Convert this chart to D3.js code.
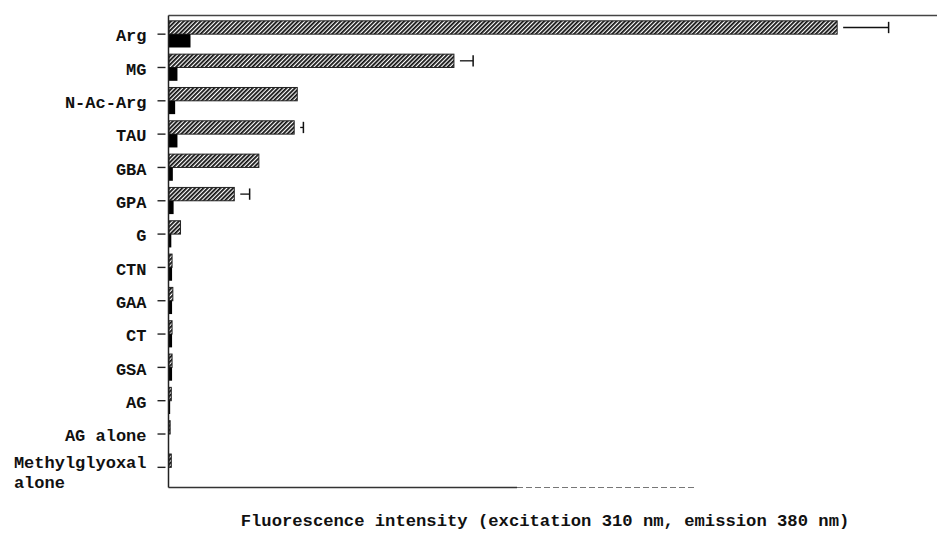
<!DOCTYPE html>
<html>
<head>
<meta charset="utf-8">
<script src="https://cdn.jsdelivr.net/npm/d3@7"></script>
<style>
  html, body { margin: 0; padding: 0; background: #fff; }
  svg { display: block; }
  .lbl { font-family: "Liberation Mono", "DejaVu Sans Mono", monospace; font-size: 17px; font-weight: bold; fill: #111; }
  .title { font-family: "Liberation Mono", "DejaVu Sans Mono", monospace; font-size: 17.2px; font-weight: bold; fill: #111; }
</style>
</head>
<body>
<svg id="chart" width="937" height="539"></svg>
<script>
// ---- data ----
const categories = ["Arg", "MG", "N-Ac-Arg", "TAU", "GBA", "GPA", "G", "CTN", "GAA", "CT", "GSA", "AG", "AG alone", "Methylglyoxal\nalone"];
const hatchedValues = [87.0, 37.1, 16.7, 16.3, 11.7, 8.5, 1.5, 0.4, 0.5, 0.4, 0.4, 0.3, 0.15, 0.3];
const hatchedErrors = [6.7, 2.5, 0, 1.2, 0, 2.0, 0, 0, 0, 0, 0, 0, 0, 0];
const solidValues   = [2.8, 1.1, 0.8, 1.1, 0.5, 0.6, 0.3, 0.4, 0.4, 0.4, 0.4, 0.15, 0, 0];
const xDomain = [0, 100];
const xAxisTitle = "Fluorescence intensity (excitation 310 nm, emission 380 nm)";

// ---- layout ----
const W = 937, H = 539;
const plotLeft = 168.5, plotTop = 15.5, plotBottom = 487.5, plotRight = 937;

const svg = d3.select("#chart");

const x = d3.scaleLinear().domain(xDomain).range([plotLeft + 0.5, plotRight]);
const y = d3.scaleBand().domain(categories).range([17.5, 484]).paddingInner(0.2).paddingOuter(0.1);
const sub = d3.scaleBand().domain(["hatched", "solid"]).range([0, y.bandwidth()]).padding(0);

// hatch pattern
const defs = svg.append("defs");
const pat = defs.append("pattern")
  .attr("id", "hatch")
  .attr("patternUnits", "userSpaceOnUse")
  .attr("width", 3).attr("height", 3)
  .attr("patternTransform", "rotate(45)");
pat.append("rect").attr("width", 3).attr("height", 3).attr("fill", "#fff");
pat.append("line").attr("x1", 0.9).attr("y1", 0).attr("x2", 0.9).attr("y2", 3)
  .attr("stroke", "#111").attr("stroke-width", 1.8);

// frame
svg.append("line").attr("x1", plotLeft).attr("x2", plotRight).attr("y1", plotTop).attr("y2", plotTop)
  .attr("stroke", "#444").attr("stroke-width", 1.6);
svg.append("line").attr("x1", plotLeft).attr("x2", 517).attr("y1", plotBottom).attr("y2", plotBottom)
  .attr("stroke", "#333").attr("stroke-width", 1.4);
svg.append("line").attr("x1", 517).attr("x2", 695).attr("y1", plotBottom).attr("y2", plotBottom)
  .attr("stroke", "#777").attr("stroke-width", 1).attr("stroke-dasharray", "6,3");

const rows = categories.map((c, i) => ({ c, h: hatchedValues[i], e: hatchedErrors[i], s: solidValues[i] }));

const g = svg.append("g");

// hatched bars
g.selectAll("rect.hatched").data(rows).join("rect")
  .attr("class", "hatched")
  .attr("x", x(0))
  .attr("y", d => y(d.c) + sub("hatched"))
  .attr("width", d => x(d.h) - x(0))
  .attr("height", sub.bandwidth())
  .attr("fill", "url(#hatch)")
  .attr("stroke", "#222").attr("stroke-width", 1);

// solid bars
g.selectAll("rect.solid").data(rows.filter(d => d.s > 0)).join("rect")
  .attr("class", "solid")
  .attr("x", x(0))
  .attr("y", d => y(d.c) + sub("solid"))
  .attr("width", d => x(d.s) - x(0))
  .attr("height", sub.bandwidth())
  .attr("fill", "#000");

// error bars (one-sided)
const eg = g.selectAll("g.err").data(rows.filter(d => d.e > 0)).join("g").attr("class", "err");
eg.append("line")
  .attr("x1", d => x(d.h) + 6).attr("x2", d => x(d.h + d.e))
  .attr("y1", d => y(d.c) + sub("hatched") + sub.bandwidth() / 2)
  .attr("y2", d => y(d.c) + sub("hatched") + sub.bandwidth() / 2)
  .attr("stroke", "#111").attr("stroke-width", 1.3);
eg.append("line")
  .attr("x1", d => x(d.h + d.e)).attr("x2", d => x(d.h + d.e))
  .attr("y1", d => y(d.c) + sub("hatched") + 1)
  .attr("y2", d => y(d.c) + sub("hatched") + sub.bandwidth() - 1)
  .attr("stroke", "#111").attr("stroke-width", 1.5);

// left axis
const yAxis = d3.axisLeft(y).tickSizeInner(11).tickSizeOuter(0).tickPadding(11).tickFormat(() => "");
const ax = svg.append("g").attr("transform", `translate(${plotLeft},0)`).call(yAxis);
ax.select(".domain").attr("d", `M0,${plotTop}V${plotBottom}`).attr("stroke", "#222").attr("stroke-width", 1.5);
ax.selectAll(".tick line").attr("x1", -3).attr("x2", -11).attr("stroke", "#222").attr("stroke-width", 1.4);
ax.selectAll(".tick text").remove();

// tick labels (multi-line labels left aligned as a block)
ax.selectAll(".tick").each(function(d) {
  const lines = d.split("\n");
  const t = d3.select(this).append("text").attr("class", "lbl");
  if (lines.length === 1) {
    t.attr("x", -22).attr("dy", "0.42em").attr("text-anchor", "end").text(lines[0]);
  } else {
    lines.forEach((ln, i) => {
      t.append("tspan").attr("x", 0).attr("dy", i === 0 ? "0.05em" : "1.15em").text(ln);
    });
    const w = t.node().getBBox().width;
    t.attr("text-anchor", "start");
    t.selectAll("tspan").attr("x", -22 - w);
  }
});

// x axis title
svg.append("text").attr("class", "title")
  .attr("x", 545).attr("y", 526).attr("text-anchor", "middle")
  .text(xAxisTitle);
</script>
</body>
</html>
